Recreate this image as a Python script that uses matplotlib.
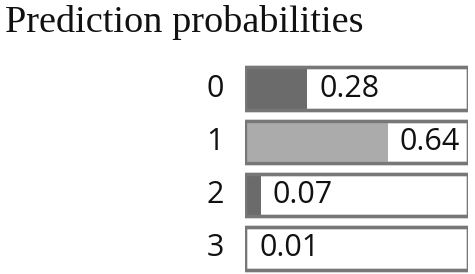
import matplotlib.pyplot as plt

# Données
classes = ['0', '1', '2', '3']
probas = [0.28, 0.64, 0.07, 0.01]
couleurs = ['#6b6b6b', '#ababab', '#6b6b6b', '#6b6b6b']

fig = plt.figure(figsize=(4.75, 2.74), dpi=100)
fig.text(5 / 475, 1 - 32 / 274, 'Prediction probabilities', family='Liberation Serif',
         fontsize=27.5, ha='left', va='baseline', color='#111111')

ax = fig.add_axes([245 / 475, 0, 223 / 475, 1 - 62 / 274])
y = list(range(len(classes)))

# cadre + remplissage
ax.barh(y, [1] * len(y), height=0.8, color='white', edgecolor='#777777', linewidth=2.4, zorder=1)
ax.barh(y, probas, height=0.8, color=couleurs, linewidth=0, zorder=2)
ax.barh(y, [1] * len(y), height=0.8, color='none', edgecolor='#777777', linewidth=2.4, zorder=3)

for i, (c, p) in enumerate(zip(classes, probas)):
    ax.text(-0.095, i, c, ha='right', va='center', fontsize=22, family='Open Sans', color='#111111')
    ax.text(p + 0.055, i, f'{p:.2f}', ha='left', va='center', fontsize=22,
            family='Open Sans', color='#111111', zorder=4)

ax.set_xlim(0, 1)
ax.set_ylim(3.48, -0.5)
ax.axis('off')

plt.savefig('out.png', dpi=100)
plt.close()
